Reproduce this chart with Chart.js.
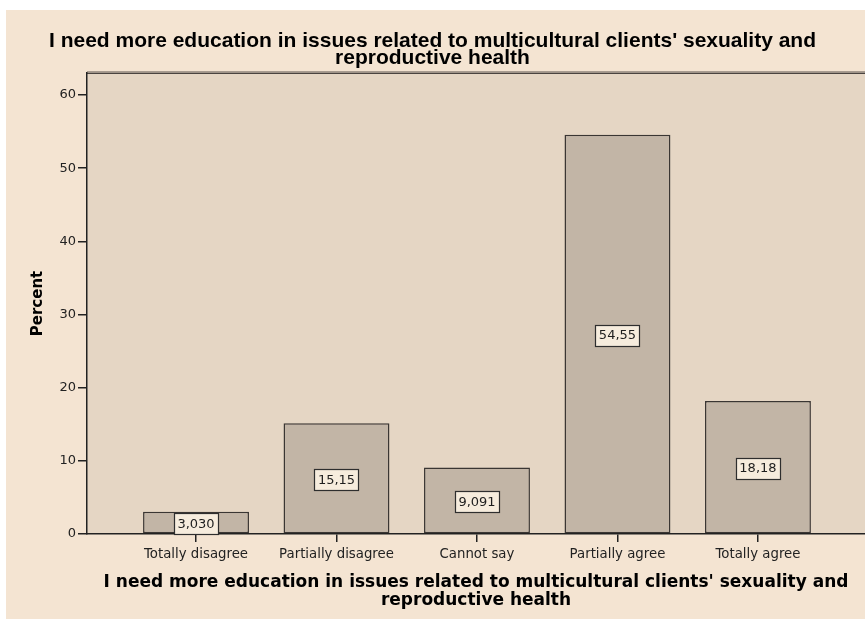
<!DOCTYPE html>
<html><head><meta charset="utf-8">
<script src="https://cdn.jsdelivr.net/npm/chart.js@4.4.0/dist/chart.umd.min.js"></script>
<style>html,body{margin:0;padding:0;background:#fff;}#wrap{width:865px;height:619px;}</style>
</head><body><div id="wrap"><canvas id="c" width="865" height="619"></canvas></div>
<script>
const categories = ['Totally disagree','Partially disagree','Cannot say','Partially agree','Totally agree'];
const percents = [3.030, 15.15, 9.091, 54.55, 18.18];
const titleLines = ["I need more education in issues related to multicultural clients' sexuality and", "reproductive health"];
const xAxisTitle = titleLines;
const yAxisTitle = 'Percent';
const yMax = 63;
const yStep = 10;

const bgPlugin = {
  id: 'bg',
  beforeDraw(chart) {
    const ctx = chart.ctx, a = chart.chartArea;
    ctx.save();
    ctx.fillStyle = '#ffffff';
    ctx.fillRect(0, 0, chart.width, chart.height);
    ctx.fillStyle = '#f4e4d2';
    ctx.fillRect(6, 10, chart.width - 6, chart.height - 10);
    ctx.fillStyle = '#e5d6c4';
    ctx.fillRect(a.left, a.top, a.right - a.left, a.bottom - a.top);
    ctx.strokeStyle = '#a89c90';
    ctx.lineWidth = 1;
    ctx.beginPath(); ctx.moveTo(a.left, a.top - 1.5); ctx.lineTo(a.right, a.top - 1.5); ctx.stroke();
    ctx.strokeStyle = '#4a4440';
    ctx.lineWidth = 1.5;
    ctx.beginPath(); ctx.moveTo(a.left, a.top + 0.25); ctx.lineTo(a.right, a.top + 0.25); ctx.stroke();
    ctx.restore();
  }
};

const labelPlugin = {
  id: 'vlabels',
  afterDatasetsDraw(chart) {
    const ctx = chart.ctx;
    const meta = chart.getDatasetMeta(0);
    ctx.save();
    ctx.font = '13px "DejaVu Sans"';
    ctx.textAlign = 'center';
    ctx.textBaseline = 'middle';
    meta.data.forEach((el, i) => {
      const txt = percents[i].toPrecision(4).replace('.', ',');
      const cx = el.x, cy = (el.y + el.base) / 2 + 1;
      const w = ctx.measureText(txt).width + 7, h = 21;
      ctx.fillStyle = '#f6ecdd';
      ctx.fillRect(Math.round(cx - w / 2), Math.round(cy - h / 2), Math.round(w), h);
      ctx.strokeStyle = '#2e2e2e';
      ctx.lineWidth = 1.2;
      ctx.strokeRect(Math.round(cx - w / 2) + 0.5, Math.round(cy - h / 2) + 0.5, Math.round(w), h);
      ctx.fillStyle = '#1e1e1e';
      ctx.fillText(txt, cx, cy + 1);
    });
    ctx.restore();
  }
};

new Chart(document.getElementById('c'), {
  type: 'bar',
  data: {
    datasets: [{
      data: percents.map((v, i) => ({x: i, y: v})),
      backgroundColor: '#c2b5a6',
      borderColor: '#3a3633',
      borderWidth: 1.5,
      borderSkipped: false,
      barPercentage: 0.754,
      categoryPercentage: 1.0
    }]
  },
  options: {
    responsive: false,
    animation: false,
    devicePixelRatio: 1,
    layout: {padding: {left: 0, right: 0, top: 0, bottom: 0}},
    plugins: {
      legend: {display: false},
      tooltip: {enabled: false},
      title: {
        display: true,
        text: titleLines,
        color: '#000',
        font: {family: '"Liberation Sans", Arial, sans-serif', size: 21, weight: 'bold', lineHeight: 17 / 21},
        padding: {top: 33, bottom: 6}
      }
    },
    scales: {
      x: {
        type: 'linear',
        offset: false,
        min: -0.776,
        max: 4.762,
        grid: {offset: false, drawOnChartArea: false, drawTicks: true, tickLength: 8, color: '#222', lineWidth: 1.5},
        border: {display: true, color: '#222', width: 1.5},
        ticks: {
          stepSize: 1,
          includeBounds: false,
          autoSkip: false,
          maxRotation: 0,
          padding: 4.5,
          color: '#222',
          font: {family: '"DejaVu Sans"', size: 13.3},
          callback: (v) => categories[v] !== undefined ? categories[v] : ''
        },
        title: {
          display: true,
          text: xAxisTitle,
          color: '#000',
          font: {family: '"DejaVu Sans"', size: 17, weight: 'bold', lineHeight: 17.5 / 17},
          padding: {top: 0, bottom: 9.75}
        },
        afterFit: (s) => { s.height = 85; }
      },
      y: {
        min: 0,
        max: yMax,
        grid: {drawOnChartArea: false, drawTicks: true, tickLength: 9, color: '#222', lineWidth: 1.5},
        border: {display: true, color: '#222', width: 1.5},
        ticks: {
          stepSize: yStep,
          includeBounds: false,
          padding: 2,
          color: '#222',
          font: {family: '"DejaVu Sans"', size: 13}
        },
        title: {
          display: true,
          text: yAxisTitle,
          color: '#000',
          font: {family: '"DejaVu Sans"', size: 15, weight: 'bold', lineHeight: 1.2},
          padding: {top: 29, bottom: 0}
        },
        afterFit: (s) => { s.width = 87; }
      }
    }
  },
  plugins: [bgPlugin, labelPlugin]
});
</script></body></html>
